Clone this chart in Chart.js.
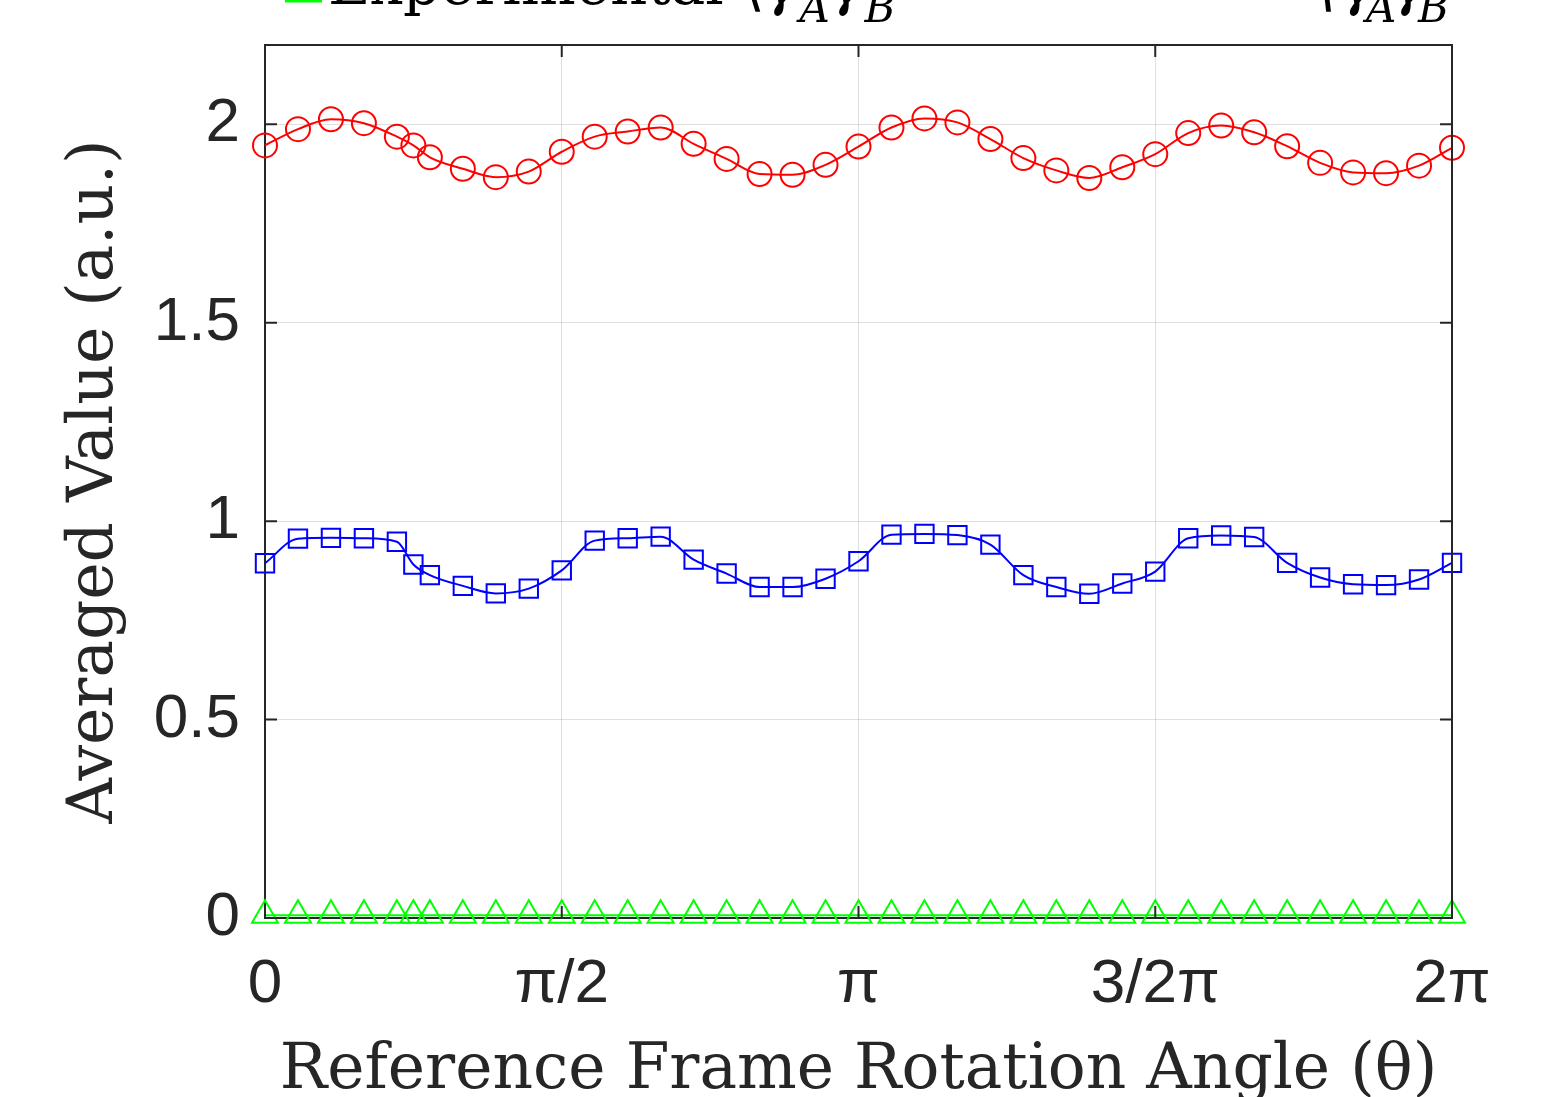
<!DOCTYPE html>
<html>
<head>
<meta charset="utf-8">
<script src="https://cdn.jsdelivr.net/npm/chart.js@4"></script>
<style>
  html, body { margin: 0; padding: 0; background: #ffffff; overflow: hidden; }
</style>
</head>
<body>
<canvas id="angleChart" width="1555" height="1097"></canvas>
<script>
// rotation angle in degrees (0..2pi), one extra sample at 45
const angles = [0, 10, 20, 30, 40, 45, 50, 60, 70, 80, 90, 100, 110, 120, 130, 140, 150, 160, 170,
    180, 190, 200, 210, 220, 230, 240, 250, 260, 270, 280, 290, 300, 310, 320, 330, 340, 350, 360];

const redValues = [1.947, 1.988, 2.013, 2.003, 1.969, 1.947, 1.917, 1.888, 1.867, 1.881, 1.931, 1.969, 1.982,
    1.992, 1.951, 1.913, 1.875, 1.873, 1.898, 1.944, 1.992, 2.015, 2.005, 1.963, 1.915, 1.884, 1.865, 1.892,
    1.925, 1.978, 1.997, 1.980, 1.945, 1.903, 1.879, 1.877, 1.896, 1.941];

const blueValues = [0.894, 0.956, 0.958, 0.957, 0.948, 0.891, 0.864, 0.837, 0.818, 0.830, 0.876, 0.951, 0.957,
    0.961, 0.903, 0.868, 0.834, 0.834, 0.855, 0.899, 0.966, 0.968, 0.965, 0.941, 0.864, 0.834, 0.817, 0.843,
    0.873, 0.957, 0.964, 0.960, 0.895, 0.858, 0.841, 0.839, 0.853, 0.895];

const greenValues = [0.007, 0.007, 0.007, 0.007, 0.007, 0.007, 0.007, 0.007, 0.007, 0.007, 0.007, 0.007, 0.007,
    0.007, 0.007, 0.007, 0.007, 0.007, 0.007, 0.007, 0.007, 0.007, 0.007, 0.007, 0.007, 0.007, 0.007, 0.007,
    0.007, 0.007, 0.007, 0.007, 0.007, 0.007, 0.007, 0.007, 0.007, 0.007];

const xTickValues = [0, 90, 180, 270, 360];
const xTickLabels = ['0', 'π/2', 'π', '3/2π', '2π'];
const yTickValues = [0, 0.5, 1, 1.5, 2];
const yTickLabels = ['0', '0.5', '1', '1.5', '2'];

const axisColor = '#262626';
const gridColor = 'rgba(38, 38, 38, 0.15)';

function toPoints(values) {
    return angles.map(function(a, i) {
        return {x: a, y: values[i]};
    });
}

function makeSeries(label, values, color, style, radius) {
    return {
        label: label,
        data: toPoints(values),
        borderColor: color,
        borderWidth: 2,
        pointStyle: style,
        pointRadius: radius,
        pointBorderWidth: 2,
        pointBorderColor: color,
        pointBackgroundColor: 'rgba(0,0,0,0)',
        pointHoverRadius: radius,
        cubicInterpolationMode: 'monotone',
        clip: false
    };
}

// box round the plot with inward ticks, and the clipped legend text at the top
const framePlugin = {
    id: 'frame',
    afterDraw: function(chart) {
        const ctx = chart.ctx;
        const area = chart.chartArea;
        const xs = chart.scales.x;
        const ys = chart.scales.y;
        const tl = 12;

        ctx.save();
        ctx.strokeStyle = axisColor;
        ctx.lineWidth = 2;
        ctx.beginPath();
        ctx.moveTo(area.left, area.top);
        ctx.lineTo(area.right, area.top);
        ctx.lineTo(area.right, area.bottom);
        ctx.stroke();

        ctx.beginPath();
        xTickValues.forEach(function(v) {
            const px = xs.getPixelForValue(v);
            ctx.moveTo(px, area.bottom);
            ctx.lineTo(px, area.bottom - tl);
            ctx.moveTo(px, area.top);
            ctx.lineTo(px, area.top + tl);
        });
        yTickValues.forEach(function(v) {
            const py = ys.getPixelForValue(v);
            ctx.moveTo(area.left, py);
            ctx.lineTo(area.left + tl, py);
            ctx.moveTo(area.right, py);
            ctx.lineTo(area.right - tl, py);
        });
        ctx.stroke();

        // legend, mostly above the visible page
        ctx.strokeStyle = '#00ff00';
        ctx.lineWidth = 3;
        ctx.beginPath();
        ctx.moveTo(285, 1);
        ctx.lineTo(322, 1);
        ctx.stroke();

        ctx.fillStyle = '#000000';
        ctx.textBaseline = 'alphabetic';
        ctx.textAlign = 'left';
        ctx.font = '58px "DejaVu Serif"';
        ctx.fillText('Experimental ⟨', 328, 4);
        let x = 328 + ctx.measureText('Experimental ⟨').width;
        ctx.font = 'italic 58px "DejaVu Serif"';
        ctx.fillText('γ', x, 4);
        x += ctx.measureText('γ').width;
        ctx.font = 'italic 42px "DejaVu Serif"';
        ctx.fillText('A', x, 22);
        x += ctx.measureText('A').width;
        ctx.font = 'italic 58px "DejaVu Serif"';
        ctx.fillText('γ', x, 4);
        x += ctx.measureText('γ').width;
        ctx.font = 'italic 42px "DejaVu Serif"';
        ctx.fillText('B', x, 22);

        ctx.font = 'italic 58px "DejaVu Serif"';
        ctx.fillText('⟨γ', 1318, 4);
        ctx.font = 'italic 42px "DejaVu Serif"';
        ctx.fillText('A', 1366, 22);
        ctx.font = 'italic 58px "DejaVu Serif"';
        ctx.fillText('γ', 1392, 4);
        ctx.font = 'italic 42px "DejaVu Serif"';
        ctx.fillText('B', 1418, 22);
        ctx.restore();
    }
};

new Chart(document.getElementById('angleChart'), {
    type: 'scatter',
    data: {
        datasets: [
            makeSeries('Series A', redValues, '#ff0000', 'circle', 12),
            makeSeries('Series B', blueValues, '#0000ff', 'rect', 13),
            makeSeries('Experimental', greenValues, '#00ff00', 'triangle', 15)
        ]
    },
    options: {
        responsive: false,
        animation: false,
        showLine: true,
        layout: {
            padding: {left: 0, top: 45, right: 103, bottom: 0}
        },
        plugins: {
            legend: {display: false},
            tooltip: {enabled: false}
        },
        scales: {
            x: {
                type: 'linear',
                min: 0,
                max: 360,
                afterBuildTicks: function(scale) {
                    scale.ticks = xTickValues.map(function(v) { return {value: v}; });
                },
                afterFit: function(scale) {
                    scale.height = 179;
                    scale.paddingLeft = 0;
                    scale.paddingRight = 0;
                },
                ticks: {
                    color: axisColor,
                    padding: 30,
                    maxRotation: 0,
                    font: {family: '"Liberation Sans"', size: 62},
                    callback: function(value) {
                        return xTickLabels[xTickValues.indexOf(value)];
                    }
                },
                grid: {color: gridColor, lineWidth: 1, drawTicks: false},
                border: {color: axisColor, width: 2},
                title: {
                    display: true,
                    text: 'Reference Frame Rotation Angle (θ)',
                    color: axisColor,
                    font: {family: '"DejaVu Serif"', size: 63},
                    padding: {top: 0, bottom: -12}
                }
            },
            y: {
                type: 'linear',
                min: 0,
                max: 2.2,
                afterBuildTicks: function(scale) {
                    scale.ticks = yTickValues.map(function(v) { return {value: v}; });
                },
                afterFit: function(scale) {
                    scale.width = 265;
                    scale.paddingTop = 0;
                    scale.paddingBottom = 0;
                },
                ticks: {
                    color: axisColor,
                    padding: 25,
                    font: {family: '"Liberation Sans"', size: 62},
                    callback: function(value) {
                        return yTickLabels[yTickValues.indexOf(value)];
                    }
                },
                grid: {color: gridColor, lineWidth: 1, drawTicks: false},
                border: {color: axisColor, width: 2},
                title: {
                    display: true,
                    text: 'Averaged Value (a.u.)',
                    color: axisColor,
                    font: {family: '"DejaVu Serif"', size: 63},
                    padding: {top: 58, bottom: 0}
                }
            }
        }
    },
    plugins: [framePlugin]
});
</script>
</body>
</html>
